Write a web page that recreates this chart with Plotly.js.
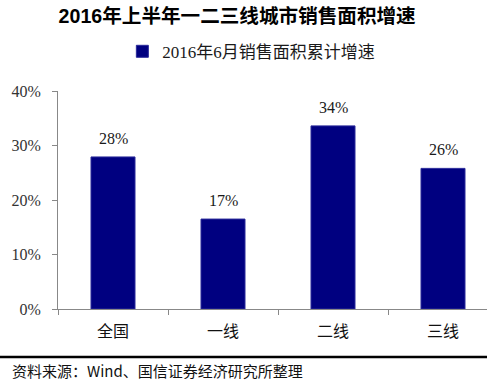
<!DOCTYPE html>
<html>
<head>
<meta charset="utf-8">
<script src="https://cdn.plot.ly/plotly-3.0.1.min.js"></script>
<style>html,body{margin:0;padding:0;background:#fff;}#chart{width:487px;height:390px;}</style>
</head>
<body>
<div id="chart"></div>
<script>
const categories = ['全国', '一线', '二线', '三线'];
const growth = [27.9, 16.5, 33.6, 25.8];
const labels = ['28%', '17%', '34%', '26%'];
const seriesName = '2016年6月销售面积累计增速';
const chartTitle = '2016年上半年一二三线城市销售面积增速';
const sourceText = '资料来源：Wind、国信证券经济研究所整理';
const yTicks = [0, 10, 20, 30, 40];

const serif = '"Liberation Serif", "Noto Sans CJK SC", serif';
const cjk = '"Noto Sans CJK SC", "Liberation Serif", sans-serif';

const trace = {
  type: 'bar',
  x: categories,
  y: growth,
  name: seriesName,
  marker: {color: '#000080', line: {color: '#2a2a9a', width: 1}},
  hoverinfo: 'none'
};

const annotations = categories.map((c, i) => ({
  x: c, y: growth[i], xref: 'x', yref: 'y',
  text: labels[i], showarrow: false,
  yanchor: 'bottom', yshift: 8,
  font: {family: serif, size: 16, color: '#1a1a1a'}
}));
annotations.push({
  xref: 'paper', yref: 'paper', x: -0.113, y: -0.28,
  xanchor: 'left', yanchor: 'middle', showarrow: false,
  text: sourceText,
  font: {family: cjk, size: 15, color: '#111'}
});

const layout = {
  width: 487, height: 390,
  margin: {l: 58, r: 0, t: 91, b: 81},
  paper_bgcolor: '#fff', plot_bgcolor: '#fff',
  bargap: 0.6,
  title: {
    text: '<b>' + chartTitle + '</b>',
    x: 0.487, xanchor: 'center', y: 1 - 16/390, yanchor: 'middle',
    font: {family: '"Liberation Sans", "Noto Sans CJK SC", sans-serif', size: 19.6, color: '#000'}
  },
  showlegend: true,
  legend: {
    orientation: 'h', x: 0.15, xanchor: 'left', y: 1.18, yanchor: 'middle',
    font: {family: serif, size: 17, color: '#1a1a1a'},
    itemwidth: 30, bgcolor: 'rgba(0,0,0,0)'
  },
  xaxis: {
    type: 'category', range: [-0.5, 3.4],
    showline: true, linecolor: '#888', linewidth: 1,
    ticks: 'outside', tickson: 'boundaries', ticklen: 5, tickcolor: '#888',
    showgrid: false, zeroline: false, fixedrange: true,
    tickfont: {family: cjk, size: 16, color: '#111'},
    ticklabelstandoff: 8
  },
  yaxis: {
    range: [0, 40], tickvals: yTicks, ticktext: yTicks.map(v => v + '%'),
    showline: true, linecolor: '#888', linewidth: 1,
    ticks: 'outside', ticklen: 5, tickcolor: '#888',
    showgrid: false, zeroline: false, fixedrange: true,
    tickfont: {family: serif, size: 16, color: '#333'},
    ticklabelstandoff: 8
  },
  shapes: [{
    type: 'line', xref: 'paper', yref: 'paper',
    x0: -58/429, x1: 1, y0: -48/218, y1: -48/218,
    line: {color: '#000', width: 2.5}
  }],
  annotations: annotations
};

Plotly.newPlot('chart', [trace], layout, {displayModeBar: false, staticPlot: true});
</script>
</body>
</html>
